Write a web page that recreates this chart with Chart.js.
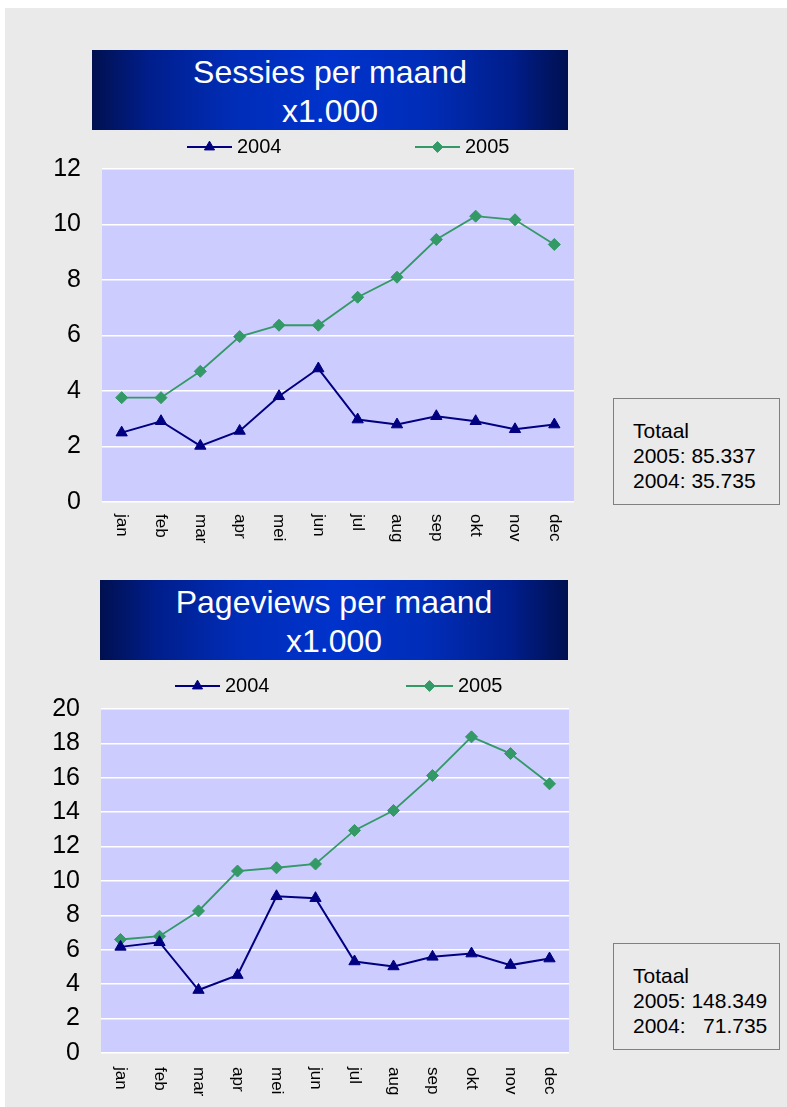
<!DOCTYPE html>
<html>
<head>
<meta charset="utf-8">
<script src="https://cdn.jsdelivr.net/npm/chart.js@4/dist/chart.umd.min.js"></script>
<style>
  body{margin:0;background:#fff;width:787px;height:1107px;position:relative;overflow:hidden;font-family:"Liberation Sans",Arial,sans-serif}
  #panel{position:absolute;left:5px;top:8px;width:782px;height:1099px;background:#EAEAEA}
  .title{position:absolute;color:#fff;text-align:center;font-size:32px;line-height:39px;box-sizing:border-box;padding-top:3px;
    background:linear-gradient(to right,#00104F 0%,#001E8C 12%,#002DB8 30%,#0033CC 50%,#002DB8 70%,#001E8C 88%,#00104F 100%)}
  .tot{position:absolute;left:613px;width:167px;height:107px;border:1px solid #808080;box-sizing:border-box;font-size:21px;line-height:25px;white-space:pre;padding:19px 0 0 19px;color:#000}
  canvas{position:absolute}
</style>
</head>
<body>
<div id="panel"></div>
<div class="title" id="t1" style="left:92px;top:50px;width:476px;height:80px"></div>
<div class="title" id="t2" style="left:100px;top:580px;width:468px;height:80px"></div>
<canvas id="c1" width="570" height="430" style="left:20px;top:130px"></canvas>
<canvas id="c2" width="570" height="442" style="left:20px;top:665px"></canvas>
<div class="tot" id="tot1" style="top:398px"></div>
<div class="tot" id="tot2" style="top:943px"></div>
<script>
// ---- data ----
const months = ['jan','feb','mar','apr','mei','jun','jul','aug','sep','okt','nov','dec'];
const seriesNames = ['2004','2005'];
const sessies2004 = [2.50,2.91,2.02,2.56,3.81,4.81,2.97,2.79,3.09,2.91,2.62,2.79];
const sessies2005 = [3.76,3.76,4.71,5.96,6.37,6.37,7.38,8.10,9.46,10.30,10.17,9.28];
const pageviews2004 = [6.17,6.44,3.66,4.53,9.11,9.00,5.32,5.03,5.59,5.78,5.11,5.49];
const pageviews2005 = [6.60,6.79,8.26,10.58,10.77,10.99,12.94,14.10,16.13,18.38,17.41,15.65];
const sessiesAxis = [0,12,2];     // min, max, step
const pageviewsAxis = [0,20,2];
const title1 = ['Sessies per maand','x1.000'];
const title2 = ['Pageviews per maand','x1.000'];
const totals1 = ['Totaal','2005: 85.337','2004: 35.735'];
const totals2 = ['Totaal','2005: 148.349','2004:   71.735'];

document.getElementById('t1').textContent = title1.join('\n');
document.getElementById('t1').style.whiteSpace = 'pre';
document.getElementById('t2').textContent = title2.join('\n');
document.getElementById('t2').style.whiteSpace = 'pre';
document.getElementById('tot1').textContent = totals1.join('\n');
document.getElementById('tot2').textContent = totals2.join('\n');

const FONT = '"Liberation Sans", Arial, sans-serif';
Chart.defaults.font.family = FONT;

function drawMarker(ctx, style, x, y, r, color){
  ctx.save();
  ctx.fillStyle = color; ctx.strokeStyle = color; ctx.lineWidth = 1;
  ctx.beginPath();
  if (style === 'triangle'){
    for (let k=0;k<3;k++){
      const a = -Math.PI/2 + k*2*Math.PI/3;
      const px = x + Math.cos(a)*r, py = y + Math.sin(a)*r;
      k ? ctx.lineTo(px,py) : ctx.moveTo(px,py);
    }
  } else {
    ctx.moveTo(x,y-r); ctx.lineTo(x+r,y); ctx.lineTo(x,y+r); ctx.lineTo(x-r,y);
  }
  ctx.closePath(); ctx.fill(); ctx.stroke();
  ctx.restore();
}

const plotBg = {
  id:'plotBg',
  beforeDraw(chart, args, opts){
    const {ctx, chartArea:a} = chart;
    ctx.save(); ctx.fillStyle = opts.color;
    ctx.fillRect(a.left, a.top, a.right-a.left, a.bottom-a.top);
    ctx.restore();
  }
};
const vLabels = {
  id:'vLabels',
  afterDraw(chart, args, opts){
    const s = chart.scales.x, ctx = chart.ctx;
    ctx.save();
    ctx.font = opts.size + 'px ' + FONT; ctx.fillStyle = '#000';
    ctx.textAlign = 'left'; ctx.textBaseline = 'middle';
    chart.data.labels.forEach((lab,i)=>{
      const x = s.getPixelForTick(i);
      ctx.save(); ctx.translate(x, s.top + opts.gap); ctx.rotate(Math.PI/2);
      ctx.fillText(lab, 0, 0); ctx.restore();
    });
    ctx.restore();
  }
};
const lineLegend = {
  id:'lineLegend',
  afterDraw(chart, args, opts){
    const ctx = chart.ctx;
    chart.data.datasets.forEach((ds,i)=>{
      const p = opts.items[i];
      ctx.save();
      ctx.strokeStyle = ds.borderColor; ctx.lineWidth = ds.borderWidth;
      ctx.beginPath(); ctx.moveTo(p[0], opts.y); ctx.lineTo(p[1], opts.y); ctx.stroke();
      drawMarker(ctx, ds.pointStyle, (p[0]+p[1])/2, opts.y, ds.pointRadius*0.9, ds.pointBackgroundColor);
      ctx.font = opts.size + 'px ' + FONT; ctx.fillStyle = '#000';
      ctx.textBaseline = 'middle'; ctx.textAlign = 'left';
      ctx.fillText(ds.label, p[1] + 5, opts.y);
      ctx.restore();
    });
  }
};

function makeChart(id, d2004, d2005, axis, L){
  return new Chart(document.getElementById(id), {
    type:'line',
    data:{
      labels: months,
      datasets:[
        {label:seriesNames[0], data:d2004, borderColor:'#000080', backgroundColor:'#000080',
         pointBackgroundColor:'#000080', pointBorderColor:'#000080', pointStyle:'triangle',
         pointRadius:6.5, pointBorderWidth:1, borderWidth:2, tension:0},
        {label:seriesNames[1], data:d2005, borderColor:'#339966', backgroundColor:'#339966',
         pointBackgroundColor:'#339966', pointBorderColor:'#339966', pointStyle:'rectRot',
         pointRadius:6, pointBorderWidth:1, borderWidth:1.8, tension:0}
      ]
    },
    options:{
      responsive:false, animation:false, devicePixelRatio:1,
      layout:{padding:{left:0, right:L.padR, top:L.padT, bottom:L.padB}},
      plugins:{
        legend:{display:false}, tooltip:{enabled:false},
        plotBg:{color:'#CCCCFF'},
        vLabels:{size:17, gap:L.gap},
        lineLegend:{y:L.legY, size:20, items:L.items}
      },
      scales:{
        x:{offset:true, grid:{display:false}, border:{display:false}, ticks:{display:false},
           afterFit(s){ s.height = L.xh; }},
        y:{min:axis[0], max:axis[1],
           ticks:{stepSize:axis[2], color:'#000', font:{size:25, family:FONT}, padding:21},
           grid:{color:'#FFFFFF', lineWidth:1.5, drawTicks:false},
           border:{display:false},
           afterFit(s){ s.width = L.yw; }}
      }
    },
    plugins:[plotBg, vLabels, lineLegend]
  });
}

makeChart('c1', sessies2004, sessies2005, sessiesAxis,
  {padR:16, padT:39, padB:3, xh:55, yw:82, gap:12, legY:17, items:[[167,212],[395,440]]});
makeChart('c2', pageviews2004, pageviews2005, pageviewsAxis,
  {padR:21, padT:44, padB:4, xh:50, yw:81, gap:14, legY:21, items:[[155,200],[386,433]]});
</script>
</body>
</html>
